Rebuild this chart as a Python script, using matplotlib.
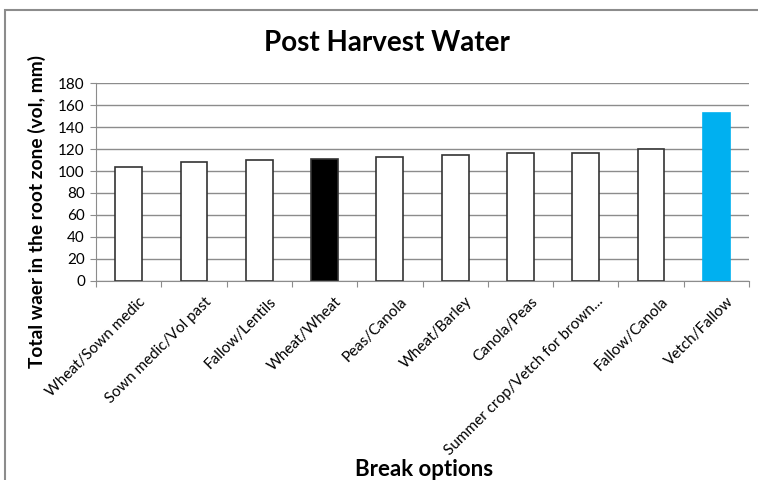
import matplotlib.pyplot as plt
import matplotlib.transforms as mtransforms
from matplotlib.patches import Rectangle

plt.rcParams['font.family'] = ['Lato', 'DejaVu Sans']

breaks = ["Wheat/Sown medic", "Sown medic/Vol past", "Fallow/Lentils", "Wheat/Wheat",
          "Peas/Canola", "Wheat/Barley", "Canola/Peas", "Summer crop/Vetch for brown...",
          "Fallow/Canola", "Vetch/Fallow"]
water = [104, 108, 110, 111, 113, 115, 116, 116, 120, 153]
colors = ["white"] * 10
colors[3] = "black"
colors[9] = "#00b0f0"
edges = ["#333333"] * 10
edges[9] = "#00b0f0"

fig = plt.figure(figsize=(7.58, 4.8), dpi=100)
fig.patches.append(Rectangle((5 / 758, -0.1), 1.2, 1.1 - 10 / 480,
                             transform=fig.transFigure, fill=False,
                             edgecolor="#8c8c8c", linewidth=1.5))
ax = fig.add_axes([96 / 758, 1 - 280.7 / 480, 653 / 758, 197.4 / 480])

x = list(range(len(breaks)))
ax.bar(x, water, width=0.41, color=colors, edgecolor=edges, linewidth=1.2, zorder=3)

ax.set_xlim(-0.5, 9.5)
ax.set_ylim(0, 180)
ax.set_yticks(range(0, 181, 20))
ax.yaxis.grid(True, color="#8c8c8c", linewidth=1)
ax.set_axisbelow(True)
for s in ["top", "right"]:
    ax.spines[s].set_visible(False)
for s in ["left", "bottom"]:
    ax.spines[s].set_color("#8c8c8c")
ax.tick_params(axis="y", length=4, color="#8c8c8c", labelsize=11, pad=4)

ax.set_xticks([i - 0.5 for i in range(11)])
ax.set_xticklabels([])
ax.tick_params(axis="x", length=4, color="#8c8c8c")
ax.set_xticks(x, minor=True)
ax.set_xticklabels(breaks, minor=True, rotation=45, ha="right", va="top",
                   rotation_mode="anchor", fontsize=11)
ax.tick_params(axis="x", which="minor", length=0, pad=10)
shift = mtransforms.ScaledTranslation(10 / 100, 0, fig.dpi_scale_trans)
for lab in ax.get_xticklabels(minor=True):
    lab.set_transform(lab.get_transform() + shift)

fig.text(387 / 758, 1 - 43 / 480, "Post Harvest Water", ha="center", va="center",
         fontsize=20, fontweight="bold")
fig.text(37 / 758, 1 - 212 / 480, "Total waer in the root zone (vol, mm)", ha="center",
         va="center", rotation=90, fontsize=13.8, fontweight="bold")
fig.text(424 / 758, 1 - 469 / 480, "Break options", ha="center", va="center",
         fontsize=16, fontweight="bold")

fig.savefig("out.png", dpi=100)
